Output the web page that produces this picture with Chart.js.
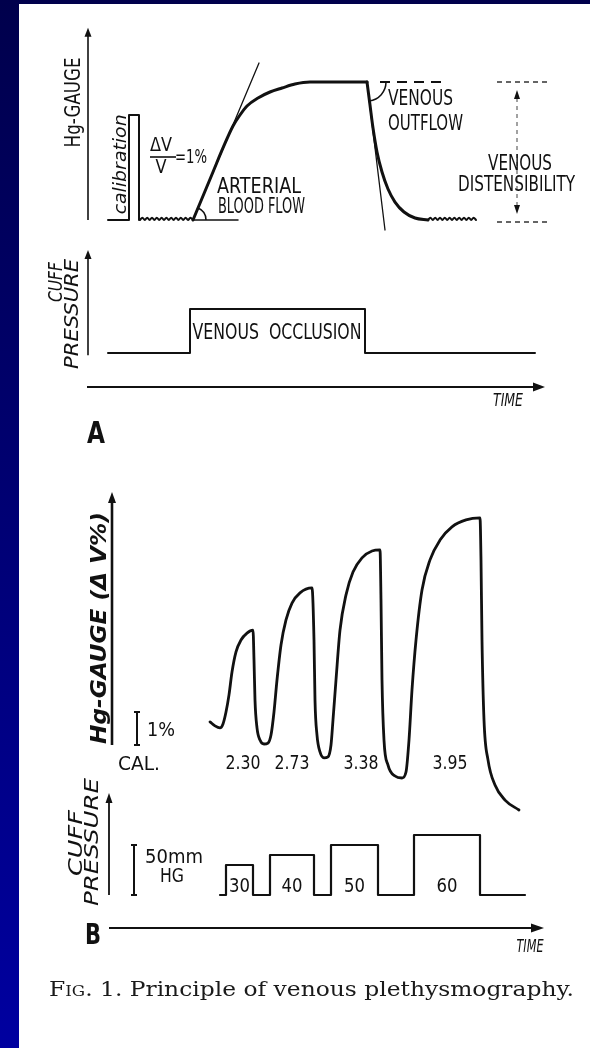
<!DOCTYPE html>
<html>
<head>
<meta charset="utf-8">
<script src="https://cdn.jsdelivr.net/npm/chart.js@4"></script>
<style>
html, body { margin: 0; padding: 0; width: 590px; height: 1048px; overflow: hidden; }
body { background: linear-gradient(to bottom, #00004c 0%, #000070 45%, #0000a0 100%); position: relative; }
#paper { position: absolute; left: 19px; top: 4px; right: 0; bottom: 0; background: #fff; }
#c { position: absolute; left: 0; top: 0; }
#caption { position: absolute; left: 49px; top: 979px; font: 21px/21px "DejaVu Serif", "Liberation Serif", serif; color: #1a1a1a; white-space: nowrap; transform-origin: 0 0; }
</style>
</head>
<body>
<div id="paper"></div>
<canvas id="c" width="590" height="1048"></canvas>
<div id="caption"><span style="font-variant: small-caps">Fig.</span> 1. Principle of venous plethysmography.</div>
<script>
// ---- panel A: time (s), strain gauge dV/V (%), cuff pressure (mmHg)
const calibA_t = [5, 10.25, 10.25, 12.75, 12.75];
const calibA_v = [0, 0, 1.0, 1.0, 0];
const rippleA1_t = [13.0, 13.6, 14.2, 14.8, 15.4, 16.0, 16.6, 17.2, 17.8, 18.4, 19.0, 19.6, 20.2, 20.8, 21.4, 22.0, 22.6, 23.2, 23.8, 24.4, 25.0, 25.6, 26.25];
const rippleA1_v = [0, 0.022, 0, 0.022, 0, 0.022, 0, 0.022, 0, 0.022, 0, 0.022, 0, 0.022, 0, 0.022, 0, 0.022, 0, 0.022, 0, 0.022, 0];
const riseA_t = [26.25, 28.75, 31.25, 33.75, 36.25, 38.0, 39.75, 42.5, 45.5, 48.5, 51.75, 55.5, 69.75];
const riseA_v = [0, 0.229, 0.457, 0.686, 0.895, 1.0, 1.086, 1.162, 1.219, 1.257, 1.295, 1.314, 1.314];
const fallA_t = [69.75, 70.5, 71.25, 72.25, 73.5, 75.0, 76.75, 79.0, 81.75, 85.0];
const fallA_v = [1.314, 1.095, 0.876, 0.648, 0.457, 0.295, 0.171, 0.076, 0.019, 0];
const rippleA2_t = [85.0, 85.6, 86.2, 86.8, 87.4, 88.0, 88.6, 89.2, 89.8, 90.4, 91.0, 91.6, 92.2, 92.8, 93.4, 94.0, 94.6, 95.2, 95.8, 96.4, 97.0];
const rippleA2_v = [0, 0.022, 0, 0.022, 0, 0.022, 0, 0.022, 0, 0.022, 0, 0.022, 0, 0.022, 0, 0.022, 0, 0.022, 0, 0.022, 0];
const angleBase_t = [26.25, 37.5];
const angleBase_v = [0, 0];
const tangentArt_t = [26.25, 42.75];
const tangentArt_v = [0, 1.495];
const tangentVen_t = [69.75, 74.25];
const tangentVen_v = [1.314, -0.095];
const plateauDash_t = [73, 89.75];
const plateauDash_v = [1.314, 1.314];
const distTop_t = [102.25, 114.75];
const distTop_v = [1.314, 1.314];
const distBot_t = [102.25, 114.75];
const distBot_v = [-0.019, -0.019];
const cuffA_t = [5, 25.5, 25.5, 69.25, 69.25, 111.75];
const cuffA_p = [0, 0, 40, 40, 0, 0];

// ---- panel B
const gaugeB_t = [24.5, 25.75, 27.0, 27.75, 28.5, 29.25, 30.0, 31.0, 32.25, 33.75, 35.25,
  35.5, 35.75, 36.25, 37.0, 38.0, 39.0, 39.75, 40.5, 41.25, 42.25, 43.5, 45.0, 47.0, 50.0,
  50.5, 50.75, 51.25, 52.0, 53.0, 54.0, 54.75, 55.25, 56.0, 57.0, 58.5, 60.25, 62.5, 65.0, 67.0,
  67.25, 67.5, 68.0, 69.0, 70.75, 72.5, 73.5, 74.25, 75.0, 76.0, 77.5, 79.5, 82.0, 85.0, 88.5, 92.0,
  92.25, 92.5, 93.0, 94.0, 95.75, 98.25, 101.75];
const gaugeB_v = [0.70, 0.58, 0.52, 0.64, 1.00, 1.52, 2.21, 2.82, 3.18, 3.39, 3.48,
  2.58, 1.36, 0.52, 0.15, 0.03, 0.06, 0.30, 1.00, 1.97, 3.03, 3.79, 4.30, 4.61, 4.76,
  3.18, 1.36, 0.30, -0.21, -0.39, -0.36, 0.00, 0.76, 1.97, 3.48, 4.55, 5.24, 5.67, 5.88, 5.91,
  4.39, 1.97, 0.15, -0.61, -0.94, -1.00, -0.82, 0.15, 1.67, 3.18, 4.70, 5.61, 6.21, 6.61, 6.82, 6.88,
  5.61, 3.18, 0.76, -0.45, -1.21, -1.67, -1.97];
const cuffB_t = [27, 28.5, 28.5, 35.25, 35.25, 39.5, 39.5, 50.5, 50.5, 54.75, 54.75, 66.5, 66.5, 75.5, 75.5, 92, 92, 103.25];
const cuffB_p = [0, 0, 30, 30, 0, 0, 40, 40, 0, 0, 50, 50, 0, 0, 60, 60, 0, 0];
const cuffLabels = ['30', '40', '50', '60'];
const flowLabels = ['2.30', '2.73', '3.38', '3.95'];
const flowLabel_t = [32.75, 45, 62.25, 84.5];

const INK = '#111';
const LETTER = '"Liberation Sans Narrow", "DejaVu Sans Condensed", "Liberation Sans", sans-serif';

// axis range so that value 0 sits at zeroPx with pxPerUnit scaling over the whole canvas
function place(zeroPx, pxPerUnit, size, horizontal) {
    if (horizontal) {
        const min = -zeroPx / pxPerUnit;
        return { min: min, max: min + size / pxPerUnit };
    }
    const max = zeroPx / pxPerUnit;
    return { min: max - size / pxPerUnit, max: max };
}

function line(ts, vs, xid, yid, opts) {
    return Object.assign({
        data: ts.map((t, i) => ({ x: t, y: vs[i] })),
        xAxisID: xid,
        yAxisID: yid,
        borderColor: INK,
        borderWidth: 2,
        pointRadius: 0,
        tension: 0,
        fill: false,
        borderJoinStyle: 'round',
        borderCapStyle: 'round'
    }, opts || {});
}

function txt(c, s, x, y, o) {
    c.save();
    c.translate(x, y);
    if (o.rot) c.rotate(o.rot);
    c.font = (o.italic ? 'italic ' : '') + (o.bold ? 'bold ' : '') + o.size + 'px ' + LETTER;
    c.fillStyle = INK;
    c.textAlign = 'center';
    c.textBaseline = 'middle';
    const m = c.measureText(s).width;
    if (o.w) c.scale(o.w / m, 1);
    c.fillText(s, 0, 0);
    c.restore();
}

function vArrow(c, x, yBase, yTip, lw, len, half) {
    c.lineWidth = lw;
    c.beginPath(); c.moveTo(x, yBase); c.lineTo(x, yTip + len - 1); c.stroke();
    c.beginPath(); c.moveTo(x, yTip); c.lineTo(x - half, yTip + len); c.lineTo(x + half, yTip + len); c.closePath(); c.fill();
}

function hArrow(c, xBase, xTip, y, lw, len, half) {
    c.lineWidth = lw;
    c.beginPath(); c.moveTo(xBase, y); c.lineTo(xTip - len + 1, y); c.stroke();
    c.beginPath(); c.moveTo(xTip, y); c.lineTo(xTip - len, y - half); c.lineTo(xTip - len, y + half); c.closePath(); c.fill();
}

function ibeam(c, x, y0, y1) {
    c.lineWidth = 2;
    c.beginPath();
    c.moveTo(x, y0); c.lineTo(x, y1);
    c.moveTo(x - 3, y0); c.lineTo(x + 3, y0);
    c.moveTo(x - 3, y1); c.lineTo(x + 3, y1);
    c.stroke();
}

const annot = {
    id: 'annot',
    afterDatasetsDraw(chart) {
        const c = chart.ctx;
        const P = (xid, yid, t, v) => [chart.scales[xid].getPixelForValue(t), chart.scales[yid].getPixelForValue(v)];
        const A = (t, v) => P('xA', 'yGA', t, v);
        const Ac = (t, p) => P('xA', 'yCA', t, p);
        const B = (t, v) => P('xB', 'yGB', t, v);
        const Bc = (t, p) => P('xB', 'yCB', t, p);
        c.save();
        c.strokeStyle = INK;
        c.fillStyle = INK;
        c.lineCap = 'butt';

        // axes with arrow heads
        let a = A(0, 0), b = A(0, 1.83);
        vArrow(c, a[0], a[1], b[1], 1.6, 9, 3.5);
        a = Ac(0, -2); b = Ac(0, 93.6);
        vArrow(c, a[0], a[1], b[1], 1.6, 9, 3.5);
        a = Ac(-0.25, -30.9); b = Ac(114.25, -30.9);
        hArrow(c, a[0], b[0], a[1], 2, 12, 4.5);
        a = B(0, 0); b = B(0, 7.67);
        vArrow(c, a[0], a[1], b[1], 2.6, 11, 4);
        a = Bc(-0.75, 0); b = Bc(-0.75, 102);
        vArrow(c, a[0], a[1], b[1], 1.8, 10, 3.5);
        a = Bc(-0.75, -33); b = Bc(108, -33);
        hArrow(c, a[0], b[0], a[1], 2.2, 13, 4.5);

        // angle marks
        c.lineWidth = 1.5;
        a = A(26.25, 0);
        c.beginPath(); c.arc(a[0], a[1], 13, -1.17, 0); c.stroke();
        a = A(69.75, 1.314);
        c.beginPath(); c.arc(a[0], a[1], 19, 0, 1.45); c.stroke();

        // venous distensibility double arrow
        a = A(107.25, 1.238); b = A(107.25, 0.057);
        c.save();
        c.strokeStyle = '#555'; c.lineWidth = 1.1; c.setLineDash([4, 4]);
        c.beginPath(); c.moveTo(a[0], a[1] + 8); c.lineTo(b[0], b[1] - 8); c.stroke();
        c.restore();
        c.beginPath(); c.moveTo(a[0], a[1]); c.lineTo(a[0] - 3, a[1] + 9); c.lineTo(a[0] + 3, a[1] + 9); c.closePath(); c.fill();
        c.beginPath(); c.moveTo(b[0], b[1]); c.lineTo(b[0] - 3, b[1] - 9); c.lineTo(b[0] + 3, b[1] - 9); c.closePath(); c.fill();

        // dV/V fraction bar
        a = A(15.5, 0.6); b = A(22, 0.6);
        c.lineWidth = 1.6;
        c.beginPath(); c.moveTo(a[0], a[1]); c.lineTo(b[0], b[1]); c.stroke();

        // calibration bars of panel B
        a = B(6.25, 0); b = B(6.25, 1);
        ibeam(c, a[0], a[1], b[1]);
        a = Bc(5.5, 0); b = Bc(5.5, 50);
        ibeam(c, a[0], a[1], b[1]);

        const up = -Math.PI / 2;
        const put = (s, pt, o) => txt(c, s, pt[0], pt[1], o);

        // panel A texts
        put('Hg-GAUGE', A(-3.25, 1.12), { rot: up, w: 90, size: 21 });
        put('calibration', A(8.5, 0.53), { rot: up, w: 100, size: 17, italic: true });
        put('\u0394V', A(18.25, 0.705), { w: 22, size: 19 });
        put('V', A(18.25, 0.495), { w: 11, size: 19 });
        put('=1%', A(25.75, 0.59), { w: 32, size: 19 });
        put('ARTERIAL', A(42.75, 0.305), { w: 84, size: 21 });
        put('BLOOD FLOW', A(43.375, 0.114), { w: 87, size: 21 });
        put('VENOUS', A(83.125, 1.143), { w: 65, size: 21 });
        put('OUTFLOW', A(84.375, 0.905), { w: 75, size: 21 });
        put('VENOUS', A(108, 0.524), { w: 64, size: 21 });
        put('DISTENSIBILITY', A(107.125, 0.324), { w: 117, size: 21 });
        put('CUFF', Ac(-7.75, 64.5), { rot: up, w: 40, size: 19, italic: true });
        put('PRESSURE', Ac(-3.75, 35.5), { rot: up, w: 110, size: 19, italic: true });
        put('VENOUS  OCCLUSION', Ac(47.25, 17.3), { w: 169, size: 21 });
        put('TIME', Ac(105, -44.5), { w: 30, size: 17, italic: true });
        put('A', Ac(2, -74.5), { w: 18, size: 30, bold: true });

        // panel B texts
        put('Hg-GAUGE (\u0394 V%)', B(-3, 3.545), { rot: up, w: 232, size: 22, bold: true, italic: true });
        put('1%', B(12.25, 0.424), { w: 28, size: 20 });
        put('CAL.', B(6.75, -0.606), { w: 42, size: 20 });
        flowLabels.forEach((s, i) => put(s, B(flowLabel_t[i], -0.576), { w: 35, size: 20 }));
        put('CUFF', Bc(-8.75, 52), { rot: up, w: 66, size: 20, italic: true });
        put('PRESSURE', Bc(-4.75, 53), { rot: up, w: 128, size: 20, italic: true });
        put('50mm', Bc(15.5, 37), { w: 58, size: 19 });
        put('HG', Bc(15, 18), { w: 24, size: 19 });
        cuffLabels.forEach((s, i) => {
            const mid = (cuffB_t[4 * i + 2] + cuffB_t[4 * i + 3]) / 2;
            put(s, Bc(mid, 7.5), { w: 21, size: 19 });
        });
        put('TIME', Bc(104.5, -53), { w: 27, size: 17, italic: true });
        put('B', Bc(-4.75, -42), { w: 16, size: 28, bold: true });

        c.restore();
    }
};

const dotted = { borderWidth: 1.5, borderColor: '#333', borderDash: [5, 4], borderCapStyle: 'butt' };

const config = {
    type: 'line',
    data: {
        datasets: [
            line(calibA_t, calibA_v, 'xA', 'yGA', { borderWidth: 2 }),
            line(rippleA1_t, rippleA1_v, 'xA', 'yGA', { borderWidth: 2, tension: 0.4 }),
            line(angleBase_t, angleBase_v, 'xA', 'yGA', { borderWidth: 1.5 }),
            line(tangentArt_t, tangentArt_v, 'xA', 'yGA', { borderWidth: 1.3 }),
            line(riseA_t, riseA_v, 'xA', 'yGA', { borderWidth: 3, cubicInterpolationMode: 'monotone' }),
            line(plateauDash_t, plateauDash_v, 'xA', 'yGA', { borderWidth: 2, borderDash: [10, 7], borderCapStyle: 'butt' }),
            line(tangentVen_t, tangentVen_v, 'xA', 'yGA', { borderWidth: 1.3 }),
            line(fallA_t, fallA_v, 'xA', 'yGA', { borderWidth: 3, cubicInterpolationMode: 'monotone' }),
            line(rippleA2_t, rippleA2_v, 'xA', 'yGA', { borderWidth: 2, tension: 0.4 }),
            line(distTop_t, distTop_v, 'xA', 'yGA', dotted),
            line(distBot_t, distBot_v, 'xA', 'yGA', dotted),
            line(cuffA_t, cuffA_p, 'xA', 'yCA', { borderWidth: 2 }),
            line(gaugeB_t, gaugeB_v, 'xB', 'yGB', { borderWidth: 2.8, cubicInterpolationMode: 'monotone' }),
            line(cuffB_t, cuffB_p, 'xB', 'yCB', { borderWidth: 2.2 })
        ]
    },
    options: {
        responsive: false,
        maintainAspectRatio: false,
        animation: false,
        events: [],
        layout: { padding: 0 },
        plugins: { legend: { display: false }, tooltip: { enabled: false } },
        scales: {
            x: { type: 'linear', display: false },
            y: { type: 'linear', display: false },
            xA: Object.assign({ type: 'linear', axis: 'x', display: false }, place(88, 4, 590, true)),
            xB: Object.assign({ type: 'linear', axis: 'x', display: false }, place(112, 4, 590, true)),
            yGA: Object.assign({ type: 'linear', axis: 'y', display: false }, place(220, 105, 1048, false)),
            yCA: Object.assign({ type: 'linear', axis: 'y', display: false }, place(353, 1.1, 1048, false)),
            yGB: Object.assign({ type: 'linear', axis: 'y', display: false }, place(745, 33, 1048, false)),
            yCB: Object.assign({ type: 'linear', axis: 'y', display: false }, place(895, 1, 1048, false))
        }
    },
    plugins: [annot]
};

const myChart = new Chart(document.getElementById('c'), config);

// stretch caption to the printed width
const cap = document.getElementById('caption');
const w = cap.getBoundingClientRect().width;
cap.style.transform = 'scaleX(' + (525 / w) + ')';
</script>
</body>
</html>
